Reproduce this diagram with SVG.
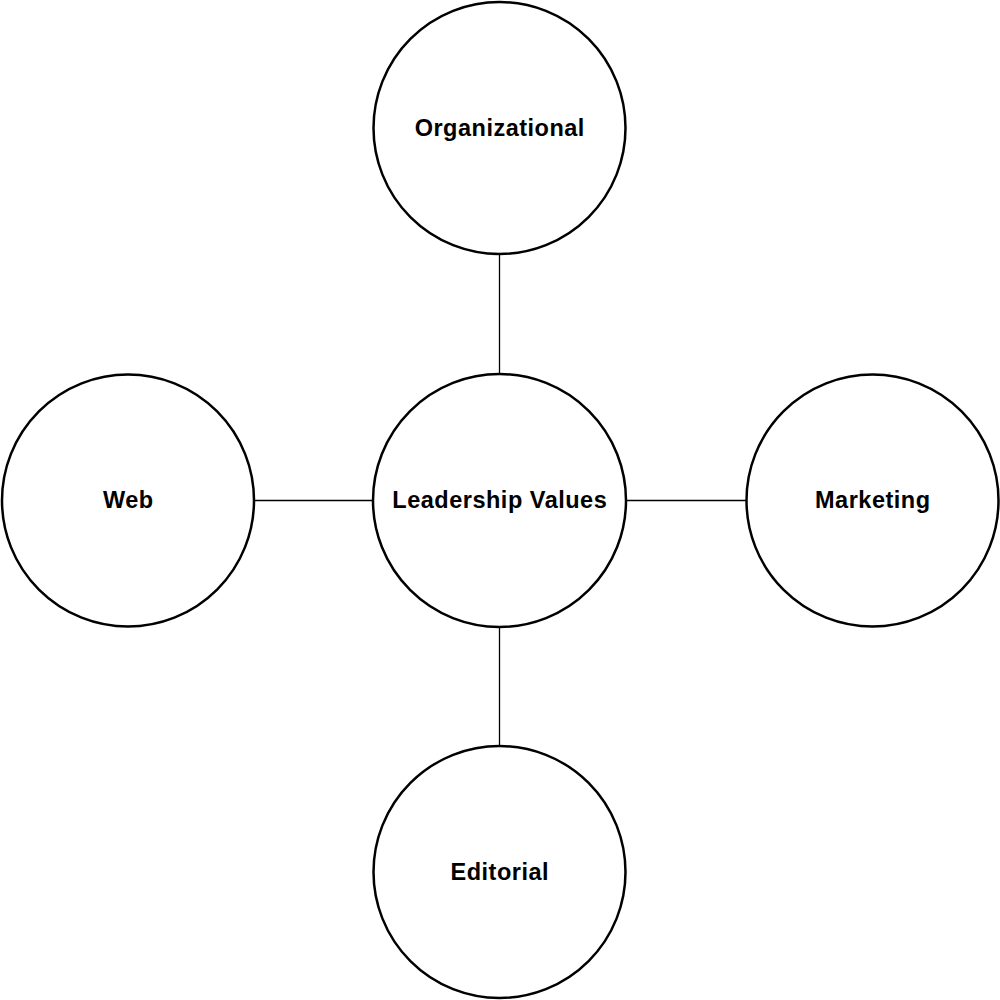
<svg xmlns="http://www.w3.org/2000/svg" width="1000" height="1000" viewBox="0 0 1000 1000">
<style>
.node circle{fill:#fff;stroke:#000;stroke-width:2.5}
.node text{font-family:"Liberation Sans",Arial,sans-serif;font-weight:bold;font-size:23.5px;letter-spacing:0.5px;text-anchor:middle;fill:#000}
#connectors line{stroke:#000;stroke-width:1.3}
</style>
<rect width="1000" height="1000" fill="#fff"/>
<g id="connectors">
<line x1="499.5" y1="254" x2="499.5" y2="374"/>
<line x1="254" y1="500.5" x2="373" y2="500.5"/>
<line x1="626" y1="500.5" x2="746" y2="500.5"/>
<line x1="499.5" y1="627" x2="499.5" y2="746"/>
</g>
<g id="center" class="node"><circle cx="499.5" cy="500.5" r="126.5"/><text x="499.8" y="508.3">Leadership Values</text></g>
<g id="organizational" class="node"><circle cx="499.5" cy="128" r="126"/><text x="499.8" y="136.3">Organizational</text></g>
<g id="web" class="node"><circle cx="128" cy="500.5" r="126"/><text x="128.3" y="508.3">Web</text></g>
<g id="marketing" class="node"><circle cx="872.5" cy="500.5" r="126"/><text x="872.8" y="508.3">Marketing</text></g>
<g id="editorial" class="node"><circle cx="499.5" cy="872" r="126"/><text x="499.8" y="880.3">Editorial</text></g>
</svg>
